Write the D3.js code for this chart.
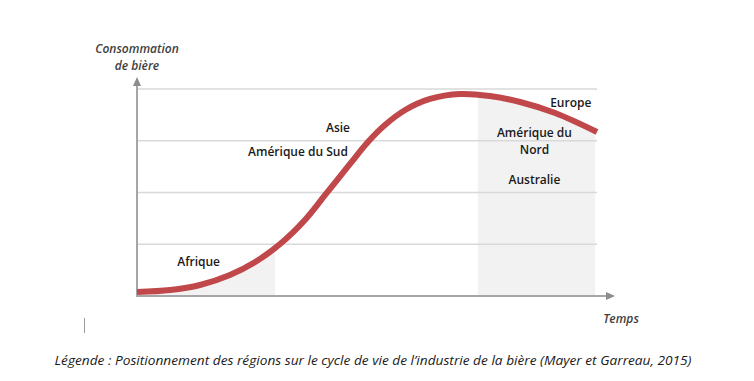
<!DOCTYPE html>
<html><head><meta charset="utf-8">
<script src="https://cdn.jsdelivr.net/npm/d3@7"></script>
<style>body{margin:0;background:#fff}svg{display:block}text{font-family:"Open Sans",sans-serif}</style>
</head><body>
<svg id="c" width="754" height="381"></svg>
<script>
// Curve: time (0-100) vs consumption (0-4)
const timeValues = [0, 7.2, 13.7, 20.2, 25.7, 31.1, 36.5, 40.9, 46.3, 50.2, 53.9, 58.3, 63.7, 70.2, 76.7, 83.3, 90.9, 100];
const consumption = [0.077, 0.116, 0.213, 0.406, 0.657, 1.004, 1.469, 1.952, 2.551, 2.976, 3.304, 3.594, 3.807, 3.903, 3.865, 3.749, 3.536, 3.169];
const gridValues = [1, 2, 3, 4];
const shadeRanges = [[0, 30], [74.1, 99.6]];
const regionLabels = [
  {text: "Afrique", t: 13.4, v: 0.58},
  {text: "Asie", t: 43.7, v: 3.17},
  {text: "Amérique du Sud", t: 35.0, v: 2.7},
  {text: "Europe", t: 94.3, v: 3.65},
  {text: "Amérique du", t: 86.4, v: 3.07},
  {text: "Nord", t: 86.4, v: 2.74},
  {text: "Australie", t: 86.4, v: 2.16}
];
const yTitle = ["Consommation", "de bière"];
const xTitle = "Temps";
const caption = "Légende : Positionnement des régions sur le cycle de vie de l’industrie de la bière (Mayer et Garreau, 2015)";

const svg = d3.select("#c");
const x = d3.scaleLinear().domain([0, 100]).range([137, 597]);
const y = d3.scaleLinear().domain([0, 4]).range([296, 89]);
const pts = timeValues.map((t, i) => ({t, v: consumption[i]}));
const curve = d3.curveCatmullRom.alpha(0.5);

// Shaded areas under curve
svg.append("clipPath").attr("id", "under").append("path")
  .attr("d", d3.area().x(d => x(d.t)).y0(y(0)).y1(d => y(d.v)).curve(curve)(pts));
svg.append("g").attr("clip-path", "url(#under)").selectAll("rect").data(shadeRanges).join("rect")
  .attr("x", d => x(d[0])).attr("width", d => x(d[1]) - x(d[0]))
  .attr("y", y(4.2)).attr("height", y(0) - y(4.2)).attr("fill", "#f2f2f2");

// Gridlines
svg.append("g").selectAll("line").data(gridValues).join("line")
  .attr("x1", x(0)).attr("x2", x(100)).attr("y1", d => y(d)).attr("y2", d => y(d))
  .attr("stroke", "#d9d9d9").attr("stroke-width", 1.5);

// Axes with arrows
const axCol = "#a6a6a6";
svg.append("line").attr("x1", x(0)).attr("x2", 608).attr("y1", y(0)).attr("y2", y(0)).attr("stroke", axCol).attr("stroke-width", 2);
svg.append("path").attr("d", `M615,${y(0)} L606,${y(0)-4} L606,${y(0)+4} Z`).attr("fill", "#8c8c8c");
svg.append("line").attr("x1", x(0)).attr("x2", x(0)).attr("y1", y(0)+1).attr("y2", 84).attr("stroke", axCol).attr("stroke-width", 2);
svg.append("path").attr("d", `M${x(0)},77 L${x(0)-4},86 L${x(0)+4},86 Z`).attr("fill", "#8c8c8c");

// Curve
svg.append("path").attr("d", d3.line().x(d => x(d.t)).y(d => y(d.v)).curve(curve)(pts))
  .attr("fill", "none").attr("stroke", "#c0474a").attr("stroke-width", 6);

// Labels
svg.append("g").selectAll("text").data(regionLabels).join("text")
  .attr("x", d => x(d.t)).attr("y", d => y(d.v)).attr("text-anchor", "middle")
  .attr("font-size", 12).attr("font-weight", 600).attr("fill", "#1a1a1a").text(d => d.text);

svg.append("g").selectAll("text").data(yTitle).join("text")
  .attr("x", 137).attr("y", (d, i) => 53 + i * 17).attr("text-anchor", "middle")
  .attr("font-size", 12).attr("font-style", "italic").attr("font-weight", 600).attr("fill", "#404040").text(d => d);
svg.append("text").attr("x", 621).attr("y", 323).attr("text-anchor", "middle")
  .attr("font-size", 12).attr("font-style", "italic").attr("font-weight", 600).attr("fill", "#404040").text(xTitle);

svg.append("line").attr("x1", 84.5).attr("x2", 84.5).attr("y1", 318).attr("y2", 333).attr("stroke", "#9a9a9a").attr("stroke-width", 1);

svg.append("text").attr("x", 373).attr("y", 365).attr("text-anchor", "middle")
  .attr("font-size", 12).attr("font-style", "italic").attr("fill", "#1a1a1a")
  .attr("textLength", 637).attr("lengthAdjust", "spacingAndGlyphs").text(caption);
</script>
</body></html>
